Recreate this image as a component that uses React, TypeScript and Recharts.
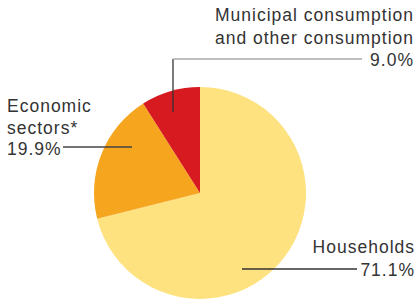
import React from 'react';
import { PieChart, Pie, Cell } from 'recharts';

const categories = ['Households', 'Economic sectors*', 'Municipal consumption and other consumption'];
const shares = [71.1, 19.9, 9.0];
const colors = ['#FEE27F', '#F6A51F', '#D71920'];

const data = categories.map((name, i) => ({ name, value: shares[i] }));

// label blocks: text lines, text anchor point, leader line segments
const labelLayout = [
  {
    lines: ['Households', '71.1%'],
    x: 415,
    y: 253,
    anchor: 'end',
    gap: 22.5,
    leader: [[[242, 269], [357, 269]]],
    leaderColor: ['#333'],
  },
  {
    lines: ['Economic', 'sectors*', '19.9%'],
    x: 7,
    y: 112,
    anchor: 'start',
    gap: 21.5,
    leader: [[[63, 147], [132, 147]]],
    leaderColor: ['#444'],
  },
  {
    lines: ['Municipal consumption', 'and other consumption', '9.0%'],
    x: 414,
    y: 21,
    anchor: 'end',
    gap: 22.5,
    leader: [[[173, 112], [173, 59]], [[173, 59], [362, 59]]],
    leaderColor: ['#333', '#aaa'],
  },
];

const renderLabel = (props: any) => {
  const l = labelLayout[props.index];
  return (
    <g key={`lbl-${props.index}`}>
      {l.leader.map((seg, i) => (
        <line key={i} x1={seg[0][0]} y1={seg[0][1]} x2={seg[1][0]} y2={seg[1][1]}
          stroke={l.leaderColor[i]} strokeWidth={1.3} />
      ))}
      <text x={l.x} y={l.y} textAnchor={l.anchor} fill="#333" fontSize={17.5} letterSpacing={1}
        style={{ fontFamily: '"Liberation Sans", Arial, sans-serif' }}>
        {l.lines.map((t, i) => (
          <tspan key={i} x={l.x} dy={i === 0 ? 0 : l.gap}>{t}</tspan>
        ))}
      </text>
    </g>
  );
};

export default function App() {
  return (
    <div style={{ position: 'absolute', left: 0, top: 0, width: 419, height: 300, background: '#fff', overflow: 'hidden' }}>
      <PieChart width={419} height={300} margin={{ top: 0, right: 0, bottom: 0, left: 0 }}>
        <Pie
          data={data}
          dataKey="value"
          nameKey="name"
          cx={200}
          cy={193}
          outerRadius={106}
          startAngle={90}
          endAngle={-270}
          stroke="none"
          label={renderLabel}
          labelLine={false}
          isAnimationActive={false}
        >
          {data.map((d, i) => (
            <Cell key={d.name} fill={colors[i]} />
          ))}
        </Pie>
      </PieChart>
    </div>
  );
}
